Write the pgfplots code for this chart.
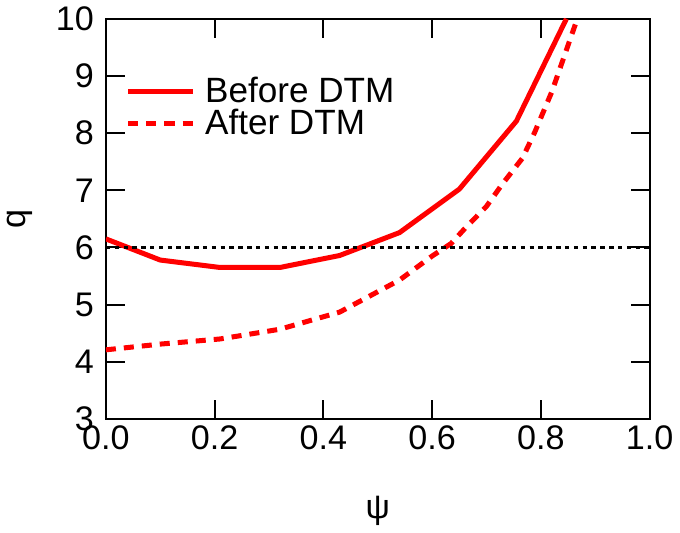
\documentclass[border=0pt]{standalone}
\usepackage{pgfplots}
\pgfplotsset{compat=1.18}
\usepackage{fontspec}
\setmainfont{Liberation Sans}
\begin{document}
\begin{tikzpicture}
\begin{axis}[
  scale only axis, width=271bp, height=199.5bp,
  xmin=0, xmax=1, ymin=3, ymax=10,
  xtick={0,0.2,0.4,0.6,0.8,1.0}, ytick={3,4,5,6,7,8,9,10},
  xticklabel style={/pgf/number format/.cd,fixed,fixed zerofill,precision=1},
  /pgf/number format/assume math mode=true,
  every tick label/.append style={font=\fontsize{17bp}{20bp}\selectfont},
  yticklabel style={xshift=-2.5bp},
  tick align=inside, major tick length=9.5bp,
  axis line style={line width=1bp}, every tick/.style={line width=1bp, black},
  xlabel={ψ}, ylabel={q},
  label style={font=\fontsize{17bp}{20bp}\selectfont},
  xlabel style={yshift=-16bp},
  ylabel style={yshift=5bp},
  legend style={draw=none, fill=none, font=\fontsize{17.5bp}{20bp}\selectfont,
    at={(rel axis cs:0.025,0.875)}, anchor=north west, row sep=-2bp},
  legend cell align=left,
  legend image code/.code={\draw[#1] (0cm,0cm) -- (32bp,0cm); \path (35bp,0cm);},
]
\addplot[red, line width=2.5bp, line join=round] coordinates {
(0,6.15)(0.1,5.78)(0.21,5.65)(0.32,5.65)(0.43,5.86)(0.54,6.26)(0.65,7.02)(0.755,8.21)(0.847,10)};
\addlegendentry{Before DTM}
\addplot[red, line width=2.5bp, dash pattern=on 5bp off 4bp] coordinates {
(0,4.21)(0.1,4.31)(0.21,4.40)(0.32,4.57)(0.43,4.87)(0.54,5.43)(0.6,5.85)(0.635,6.07)(0.66,6.33)(0.70,6.72)(0.73,7.12)(0.766,7.56)(0.788,8.0)(0.82,8.72)(0.867,10)};
\addlegendentry{After DTM}
\addplot[black, line width=1.1bp, dash pattern=on 2.2bp off 2.2bp, forget plot] coordinates {(0,6)(1,6)};
\end{axis}
\end{tikzpicture}
\end{document}
